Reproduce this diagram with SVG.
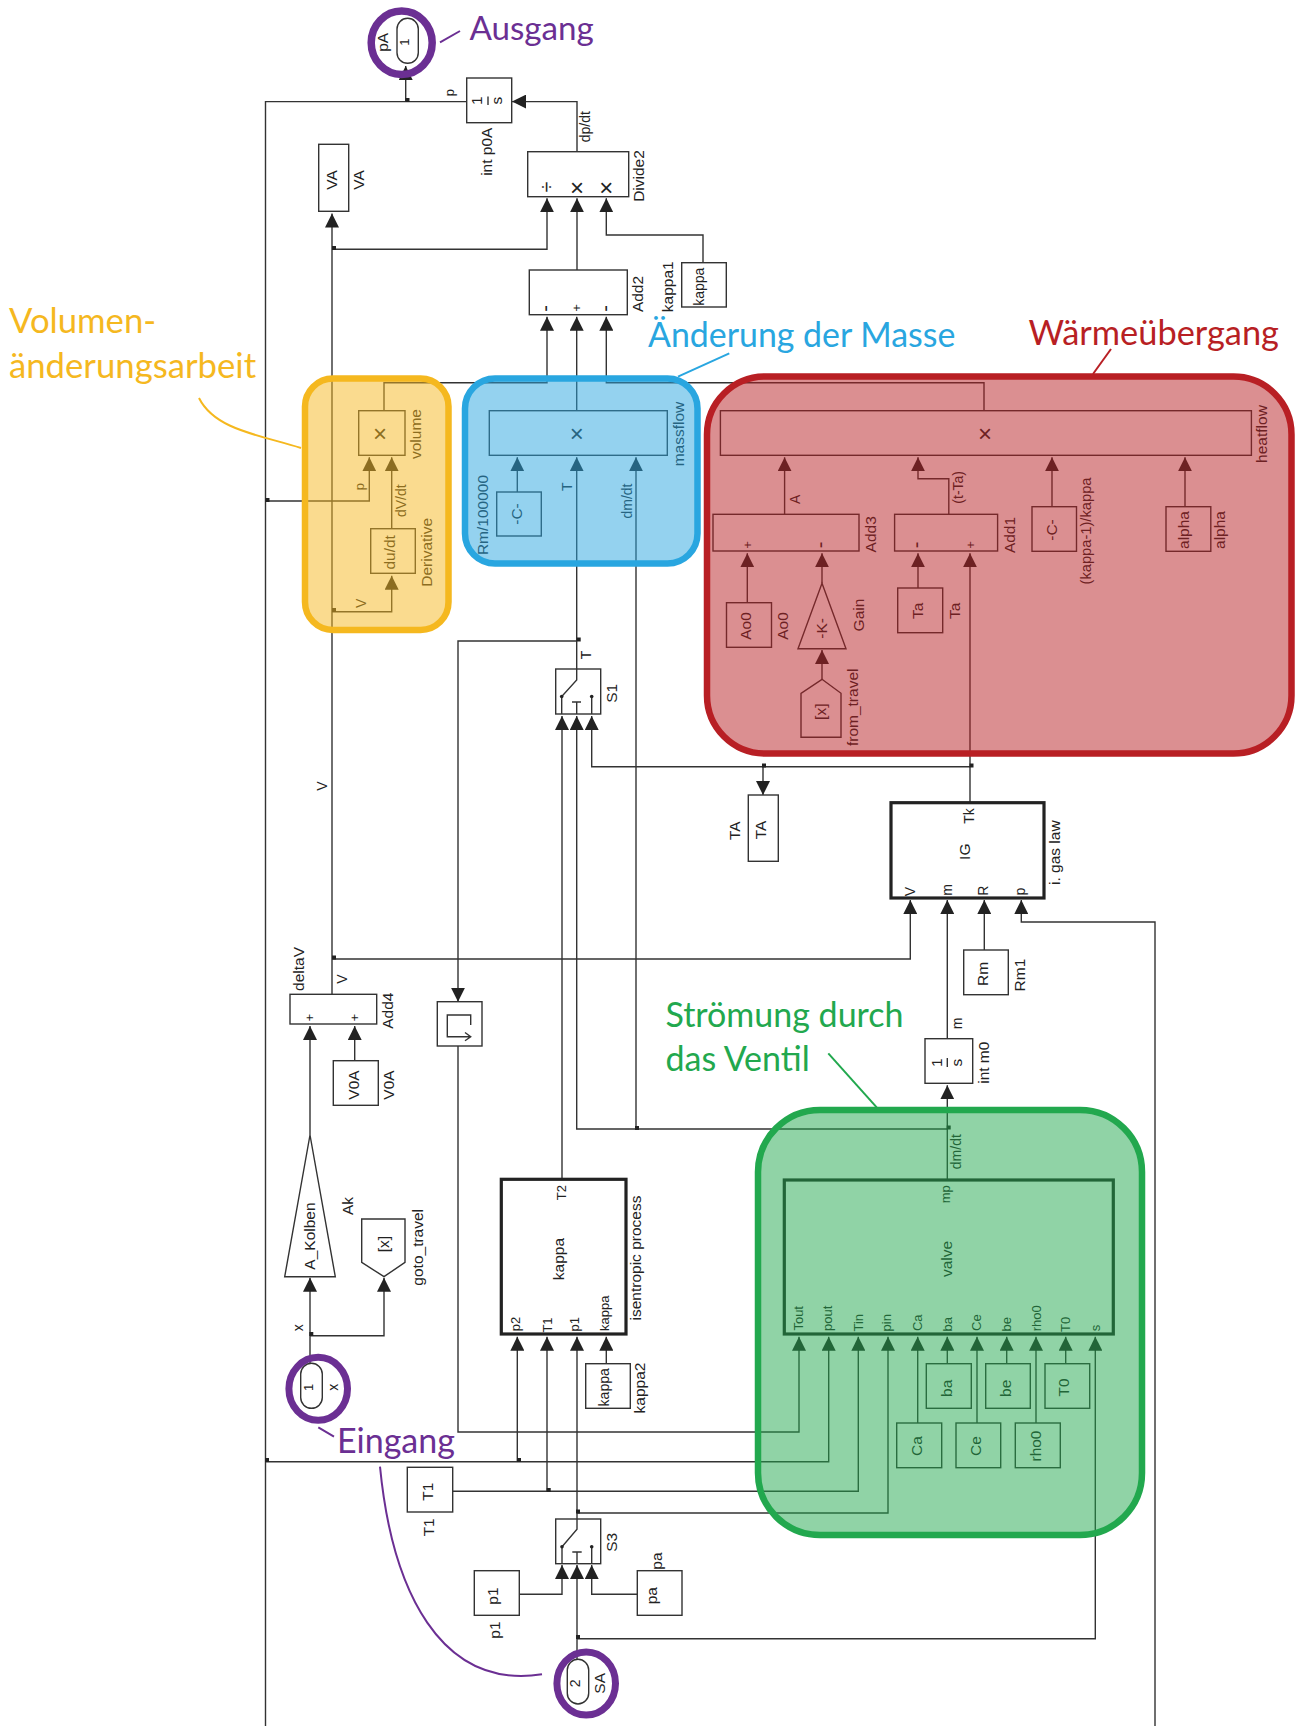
<svg xmlns="http://www.w3.org/2000/svg" width="1303" height="1726" viewBox="0 0 1303 1726">
<style>
text{font-family:"Liberation Sans",Arial,sans-serif;fill:#222;text-anchor:middle}
.f13{font-size:13px}.f14{font-size:14px}.f15{font-size:15.5px}.f20{font-size:20px}.sym{font-size:24px}
.b{fill:none;stroke:#333;stroke-width:1.4}
.tb{fill:none;stroke:#222;stroke-width:3.2}
.w{fill:none;stroke:#333;stroke-width:1.4}
.a{fill:none;stroke:#333;stroke-width:1.4;marker-end:url(#ah)}
.dot{fill:#222}
.ann{font-family:Lato,"Open Sans",sans-serif;text-anchor:start;font-size:33.5px}
.ov{stroke-width:6.5;fill-opacity:.5}
.lead{fill:none;stroke-width:2}
.ring{fill:none;stroke:#6B2F93;stroke-width:7}
</style>
<defs>
<marker id="ah" viewBox="0 0 14 14" refX="14" refY="7" markerWidth="14" markerHeight="14" markerUnits="userSpaceOnUse" orient="auto"><path d="M0 0L14 7L0 14Z" fill="#222"/></marker>
<rect id="jn" x="-2" y="-2" width="4" height="4" fill="#222"/>
</defs>
<rect width="1303" height="1726" fill="#fff"/>

<g id="connectors">
<path class="w" d="M466.7 101.6H265.5V1726"/>
<path class="a" d="M405.7 101.6V66"/>
<path class="a" d="M577 151.7V101.6H512"/>
<path class="a" d="M332 994.5V213.5"/>
<path class="a" d="M332 249.3H547V198.3"/>
<path class="a" d="M577 270V198.3"/>
<path class="a" d="M703 262.7V235H606.3V198.3"/>
<path class="a" d="M384 410.7V382.7H547V316.7"/>
<path class="a" d="M576.7 410.7V316.7"/>
<path class="a" d="M984 410.7V382.7H606.3V316.7"/>
<path class="a" d="M265.5 501H369.3V457.3"/>
<path class="a" d="M391.7 528.7V457.3"/>
<path class="a" d="M332 611.7H391.7V575.7"/>
<path class="a" d="M517.3 492V457.3"/>
<path class="a" d="M576.7 669V457.3"/>
<path class="a" d="M636 1129V457.3"/>
<path class="a" d="M576.7 641H458V1001.7"/>
<path class="a" d="M562 1179.3V716"/>
<path class="a" d="M947.3 1129H576.7V716"/>
<path class="a" d="M970 802.7V553.3"/>
<path class="a" d="M970 766.7H591.7V716"/>
<path class="a" d="M763 766.7V795"/>
<path class="a" d="M784.6 514.3V457.3"/>
<path class="a" d="M948.8 514.3V478.7H918V457.3"/>
<path class="a" d="M1052 506.7V457.3"/>
<path class="a" d="M1185 506.7V457.3"/>
<path class="a" d="M747.3 602.7V553.3"/>
<path class="a" d="M822 583.3V553.3"/>
<path class="a" d="M822 679.3V650"/>
<path class="a" d="M918 588V553.3"/>
<path class="a" d="M332 959H910.3V900"/>
<path class="a" d="M947.3 1038.7V900"/>
<path class="a" d="M984.3 950V900"/>
<path class="a" d="M1155 1726V922H1021.3V900"/>
<path class="a" d="M947.3 1180V1085.3"/>
<path class="a" d="M310 1135V1026"/>
<path class="a" d="M354.7 1060.7V1026"/>
<path class="a" d="M310 1363.3V1277.7"/>
<path class="a" d="M310 1335.7H384V1277.7"/>
<path class="a" d="M458 1046V1432H799V1336.7"/>
<path class="a" d="M265.5 1461.7H828.7V1336.7"/>
<path class="a" d="M517.3 1461.7V1336.7"/>
<path class="a" d="M452.7 1491.3H858.3V1336.7"/>
<path class="a" d="M547 1491.3V1336.7"/>
<path class="a" d="M577 1519V1336.7"/>
<path class="a" d="M577 1513H888V1336.7"/>
<path class="a" d="M606.3 1363.7V1336.7"/>
<path class="a" d="M917.7 1423V1336.7"/>
<path class="a" d="M947.3 1363.7V1336.7"/>
<path class="a" d="M977 1423V1336.7"/>
<path class="a" d="M1006.7 1363.7V1336.7"/>
<path class="a" d="M1036 1423V1336.7"/>
<path class="a" d="M1065.7 1363.7V1336.7"/>
<path class="a" d="M519.3 1594.3H562V1565"/>
<path class="a" d="M637.3 1594.3H591.7V1565"/>
<path class="a" d="M577 1659.3V1565"/>
<path class="a" d="M577 1638.7H1095.3V1336.7"/>
<use href="#jn" x="407.5" y="100"/><use href="#jn" x="334" y="248"/><use href="#jn" x="267.5" y="500"/><use href="#jn" x="334" y="610"/><use href="#jn" x="578.7" y="639.5"/><use href="#jn" x="764" y="765.5"/><use href="#jn" x="971.5" y="765.5"/><use href="#jn" x="334" y="957.5"/><use href="#jn" x="637" y="1128"/><use href="#jn" x="948.7" y="1127.5"/><use href="#jn" x="311.3" y="1334"/><use href="#jn" x="267" y="1460"/><use href="#jn" x="519" y="1460"/><use href="#jn" x="548.7" y="1490"/><use href="#jn" x="578" y="1511.5"/><use href="#jn" x="578" y="1637"/>
</g>

<g id="n-pA"><rect class="b" x="397" y="18.3" width="21.3" height="45" rx="10.6"/><text class="f13" x="409" y="42" transform="rotate(-90 409 42)">1</text><text class="f15" x="388" y="42.3" transform="rotate(-90 388 42.3)">pA</text></g>
<g id="n-intp0A"><rect class="b" x="466.7" y="78" width="45" height="44.7"/><text class="f15" x="481.7" y="100.7" transform="rotate(-90 481.7 100.7)">1</text><path class="w" d="M488 96.5V105"/><text class="f15" x="502.3" y="100.7" transform="rotate(-90 502.3 100.7)">s</text><text class="f15" x="492" y="151.7" transform="rotate(-90 492 151.7)">int p0A</text><text class="f13" x="454" y="92.7" transform="rotate(-90 454 92.7)">p</text></g>
<g id="n-VA"><rect class="b" x="318.7" y="144.3" width="30" height="67"/><text class="f15" x="337" y="180" transform="rotate(-90 337 180)">VA</text><text class="f15" x="364.3" y="180" transform="rotate(-90 364.3 180)">VA</text></g>
<g id="n-Divide2"><rect class="b" x="527.7" y="151.7" width="101" height="45"/><text class="f20" x="553" y="187" transform="rotate(-90 553 187)">÷</text><text class="sym" x="577" y="196">×</text><text class="sym" x="606.3" y="196">×</text><text class="f15" x="644" y="176" transform="rotate(-90 644 176)">Divide2</text><text class="f14" x="590" y="126.7" transform="rotate(-90 590 126.7)">dp/dt</text></g>
<g id="n-Add2"><rect class="b" x="529.3" y="270" width="98" height="44.7"/><text class="f20" x="552.4" y="308.5" transform="rotate(-90 552.4 308.5)">-</text><text class="f13" x="581.3" y="308" transform="rotate(-90 581.3 308)">+</text><text class="f20" x="611.7" y="308.5" transform="rotate(-90 611.7 308.5)">-</text><text class="f15" x="643.3" y="294" transform="rotate(-90 643.3 294)">Add2</text></g>
<g id="n-kappa1"><rect class="b" x="681.7" y="262.7" width="44.6" height="44.3"/><text class="f14" x="704.3" y="286.7" transform="rotate(-90 704.3 286.7)">kappa</text><text class="f15" x="673.3" y="286.7" transform="rotate(-90 673.3 286.7)">kappa1</text></g>

<g id="n-volume"><rect class="b" x="358.7" y="410.7" width="46.3" height="44.6"/><text class="sym" x="380" y="442">×</text><text class="f15" x="420.7" y="434" transform="rotate(-90 420.7 434)">volume</text><text class="f13" x="364" y="486.7" transform="rotate(-90 364 486.7)">p</text><text class="f14" x="405.7" y="500.7" transform="rotate(-90 405.7 500.7)">dV/dt</text></g>
<g id="n-Derivative"><rect class="b" x="370.7" y="528.7" width="44.6" height="44.6"/><text class="f15" x="395" y="552.3" transform="rotate(-90 395 552.3)">du/dt</text><text class="f15" x="431.7" y="552.3" transform="rotate(-90 431.7 552.3)">Derivative</text><text class="f14" x="365.7" y="603.3" transform="rotate(-90 365.7 603.3)">V</text></g>
<g id="n-massflow"><rect class="b" x="489.3" y="410.7" width="178" height="44.6"/><text class="sym" x="576.7" y="442">×</text><text class="f15" x="684" y="434" transform="rotate(-90 684 434)">massflow</text><text class="f14" x="571.7" y="486.7" transform="rotate(-90 571.7 486.7)">T</text><text class="f14" x="631.7" y="501" transform="rotate(-90 631.7 501)">dm/dt</text></g>
<g id="n-Rm100000"><rect class="b" x="496.7" y="492" width="44.6" height="44"/><text class="f15" x="521.7" y="514" transform="rotate(-90 521.7 514)">-C-</text><text class="f15" x="488.3" y="515" transform="rotate(-90 488.3 515)">Rm/100000</text></g>
<g id="n-S1"><rect class="b" x="555.7" y="669" width="45" height="45"/><path class="w" d="M576.7 669V680L561.7 696.5V714M591.7 696.5V714M572 702H581M576.7 702V714"/><circle class="dot" cx="561.7" cy="696.5" r="1.8"/><circle class="dot" cx="591.7" cy="696.5" r="1.8"/><text class="f15" x="616.7" y="693.3" transform="rotate(-90 616.7 693.3)">S1</text><text class="f14" x="591" y="655" transform="rotate(-90 591 655)">T</text></g>

<g id="n-heatflow"><rect class="b" x="720.4" y="410.7" width="531" height="44.6"/><text class="sym" x="985" y="442">×</text><text class="f15" x="1267" y="434" transform="rotate(-90 1267 434)">heatflow</text></g>
<g id="n-Add3"><rect class="b" x="713" y="514.3" width="146" height="36.7"/><text class="f13" x="751.6" y="545" transform="rotate(-90 751.6 545)">+</text><text class="f20" x="827.4" y="545" transform="rotate(-90 827.4 545)">-</text><text class="f15" x="876" y="534.3" transform="rotate(-90 876 534.3)">Add3</text><text class="f14" x="800" y="499.3" transform="rotate(-90 800 499.3)">A</text></g>
<g id="n-Add1"><rect class="b" x="894.6" y="514.3" width="103" height="36.7"/><text class="f20" x="923.4" y="545" transform="rotate(-90 923.4 545)">-</text><text class="f13" x="975.3" y="545" transform="rotate(-90 975.3 545)">+</text><text class="f15" x="1014.6" y="535" transform="rotate(-90 1014.6 535)">Add1</text><text class="f14" x="963" y="487.3" transform="rotate(-90 963 487.3)">(t-Ta)</text></g>
<g id="n-kappaC"><rect class="b" x="1032" y="506.7" width="44.5" height="44.6"/><text class="f15" x="1057" y="530" transform="rotate(-90 1057 530)">-C-</text><text class="f14" x="1091" y="531" transform="rotate(-90 1091 531)" style="font-size:14.7px">(kappa-1)/kappa</text></g>
<g id="n-alpha"><rect class="b" x="1166" y="506.7" width="44.8" height="44.6"/><text class="f15" x="1189" y="530" transform="rotate(-90 1189 530)">alpha</text><text class="f15" x="1225" y="530" transform="rotate(-90 1225 530)">alpha</text></g>
<g id="n-Ao0"><rect class="b" x="726.5" y="602.7" width="45" height="44.6"/><text class="f15" x="751" y="626" transform="rotate(-90 751 626)">Ao0</text><text class="f15" x="787.7" y="626" transform="rotate(-90 787.7 626)">Ao0</text></g>
<g id="n-Gain"><path class="b" d="M822 583.3L846 648.7H798Z"/><text class="f15" x="827" y="628.3" transform="rotate(-90 827 628.3)">-K-</text><text class="f15" x="863.5" y="615" transform="rotate(-90 863.5 615)">Gain</text></g>
<g id="n-from_travel"><path class="b" d="M822 679.3L841 693.3V737.3H801V693.3Z"/><text class="f15" x="826" y="711.7" transform="rotate(-90 826 711.7)">[x]</text><text class="f15" x="858" y="707.3" transform="rotate(-90 858 707.3)">from_travel</text></g>
<g id="n-Ta"><rect class="b" x="897.7" y="588" width="45" height="44.7"/><text class="f15" x="923" y="610.7" transform="rotate(-90 923 610.7)">Ta</text><text class="f15" x="959.6" y="610.7" transform="rotate(-90 959.6 610.7)">Ta</text></g>

<g id="n-TA"><rect class="b" x="748.3" y="795" width="30" height="66.3"/><text class="f15" x="766" y="830" transform="rotate(-90 766 830)">TA</text><text class="f15" x="740" y="830.7" transform="rotate(-90 740 830.7)">TA</text></g>
<g id="n-IG"><rect class="tb" x="891" y="802.7" width="153" height="95.3"/><text class="f14" x="974" y="816" transform="rotate(-90 974 816)">Tk</text><text class="f15" x="970" y="851.7" transform="rotate(-90 970 851.7)">IG</text><text class="f14" x="915" y="891.7" transform="rotate(-90 915 891.7)">V</text><text class="f14" x="951.7" y="890" transform="rotate(-90 951.7 890)">m</text><text class="f14" x="988.3" y="890.7" transform="rotate(-90 988.3 890.7)">R</text><text class="f14" x="1025" y="891.7" transform="rotate(-90 1025 891.7)">p</text><text class="f15" x="1060" y="852.7" transform="rotate(-90 1060 852.7)">i. gas law</text></g>
<g id="n-Rm1"><rect class="b" x="963.7" y="950" width="44.6" height="44.7"/><text class="f15" x="988.3" y="974" transform="rotate(-90 988.3 974)">Rm</text><text class="f15" x="1025" y="975" transform="rotate(-90 1025 975)">Rm1</text></g>
<g id="n-intm0"><rect class="b" x="925" y="1038.7" width="47.7" height="44.6"/><text class="f15" x="941.7" y="1062.7" transform="rotate(-90 941.7 1062.7)">1</text><path class="w" d="M947.3 1058V1067"/><text class="f15" x="961.7" y="1062.7" transform="rotate(-90 961.7 1062.7)">s</text><text class="f15" x="989.3" y="1062.7" transform="rotate(-90 989.3 1062.7)">int m0</text><text class="f14" x="961.7" y="1023.3" transform="rotate(-90 961.7 1023.3)">m</text></g>

<g id="n-Add4"><rect class="b" x="290" y="994.3" width="86.7" height="29.7"/><text class="f13" x="314.3" y="1017.7" transform="rotate(-90 314.3 1017.7)">+</text><text class="f13" x="359" y="1017.7" transform="rotate(-90 359 1017.7)">+</text><text class="f15" x="393" y="1010.7" transform="rotate(-90 393 1010.7)">Add4</text><text class="f15" x="304" y="969" transform="rotate(-90 304 969)">deltaV</text><text class="f14" x="346.7" y="979" transform="rotate(-90 346.7 979)">V</text><text class="f14" x="327.3" y="786" transform="rotate(-90 327.3 786)">V</text></g>
<g id="n-V0A"><rect class="b" x="333.3" y="1060.7" width="45" height="44.6"/><text class="f15" x="359" y="1085" transform="rotate(-90 359 1085)">V0A</text><text class="f15" x="394.3" y="1085" transform="rotate(-90 394.3 1085)">V0A</text></g>
<g id="n-Delay"><rect class="b" x="437.3" y="1001.7" width="44.7" height="44.3"/><path class="w" d="M470.7 1025V1015H447.3V1036.7H470.7M465 1032.5L470.7 1036.7L465 1040.7"/></g>
<g id="n-Ak"><path class="b" d="M310 1135L335.3 1276.7H284.7Z"/><text class="f15" x="315" y="1236" transform="rotate(-90 315 1236)">A_Kolben</text><text class="f15" x="352.7" y="1206" transform="rotate(-90 352.7 1206)">Ak</text></g>
<g id="n-goto_travel"><path class="b" d="M361.7 1219H405V1262.3L384 1276.7L361.7 1262.3Z"/><text class="f15" x="389" y="1244" transform="rotate(-90 389 1244)">[x]</text><text class="f15" x="423" y="1247.3" transform="rotate(-90 423 1247.3)">goto_travel</text></g>
<g id="n-x"><rect class="b" x="300.7" y="1363.3" width="21.6" height="45" rx="10.8"/><text class="f13" x="313" y="1387.3" transform="rotate(-90 313 1387.3)">1</text><text class="f14" x="337.7" y="1387.3" transform="rotate(-90 337.7 1387.3)">x</text><text class="f14" x="302.7" y="1327.7" transform="rotate(-90 302.7 1327.7)">x</text></g>
<g id="n-isentropic"><rect class="tb" x="501.3" y="1179.3" width="124.7" height="154.7"/><text class="f13" x="566" y="1192.7" transform="rotate(-90 566 1192.7)">T2</text><text class="f15" x="564" y="1259" transform="rotate(-90 564 1259)">kappa</text><text class="f15" x="640.5" y="1258" transform="rotate(-90 640.5 1258)">isentropic process</text><text class="f13" x="520" y="1324" transform="rotate(-90 520 1324)">p2</text><text class="f13" x="551.7" y="1325" transform="rotate(-90 551.7 1325)">T1</text><text class="f13" x="579" y="1324.3" transform="rotate(-90 579 1324.3)">p1</text><text class="f13" x="609" y="1313.3" transform="rotate(-90 609 1313.3)">kappa</text></g>
<g id="n-kappa2"><rect class="b" x="585.7" y="1363.7" width="44.6" height="44.6"/><text class="f14" x="609" y="1387.3" transform="rotate(-90 609 1387.3)">kappa</text><text class="f15" x="645" y="1388" transform="rotate(-90 645 1388)">kappa2</text></g>

<g id="n-valve"><rect class="tb" x="784.3" y="1180" width="329" height="154"/><text class="f13" x="950" y="1194.3" transform="rotate(-90 950 1194.3)">mp</text><text class="f15" x="952" y="1259" transform="rotate(-90 952 1259)">valve</text><text class="f14" x="960.7" y="1151.7" transform="rotate(-90 960.7 1151.7)">dm/dt</text>
<text class="f13" x="803.3" y="1318.3" transform="rotate(-90 803.3 1318.3)">Tout</text><text class="f13" x="832" y="1318.3" transform="rotate(-90 832 1318.3)">pout</text><text class="f13" x="862.7" y="1322.7" transform="rotate(-90 862.7 1322.7)">Tin</text><text class="f13" x="891" y="1322.7" transform="rotate(-90 891 1322.7)">pin</text><text class="f13" x="921.7" y="1322.7" transform="rotate(-90 921.7 1322.7)">Ca</text><text class="f13" x="951.7" y="1324.3" transform="rotate(-90 951.7 1324.3)">ba</text><text class="f13" x="981" y="1322.7" transform="rotate(-90 981 1322.7)">Ce</text><text class="f13" x="1011" y="1324.3" transform="rotate(-90 1011 1324.3)">be</text><text class="f13" x="1040.7" y="1318.3" transform="rotate(-90 1040.7 1318.3)">rho0</text><text class="f13" x="1070" y="1324.3" transform="rotate(-90 1070 1324.3)">T0</text><text class="f13" x="1100" y="1328" transform="rotate(-90 1100 1328)">s</text></g>
<g id="n-ba"><rect class="b" x="926.3" y="1363.7" width="45" height="44.6"/><text class="f15" x="951.7" y="1388.3" transform="rotate(-90 951.7 1388.3)">ba</text></g>
<g id="n-be"><rect class="b" x="985.7" y="1363.7" width="44.6" height="44.6"/><text class="f15" x="1011" y="1388.3" transform="rotate(-90 1011 1388.3)">be</text></g>
<g id="n-T0"><rect class="b" x="1045" y="1363.7" width="44.7" height="44.6"/><text class="f15" x="1069.3" y="1387.5" transform="rotate(-90 1069.3 1387.5)">T0</text></g>
<g id="n-Ca"><rect class="b" x="896.7" y="1423" width="45" height="44.7"/><text class="f15" x="921.7" y="1446" transform="rotate(-90 921.7 1446)">Ca</text></g>
<g id="n-Ce"><rect class="b" x="956" y="1423" width="44.7" height="44.7"/><text class="f15" x="981" y="1446" transform="rotate(-90 981 1446)">Ce</text></g>
<g id="n-rho0"><rect class="b" x="1015.3" y="1423" width="45" height="44.7"/><text class="f15" x="1040.7" y="1446" transform="rotate(-90 1040.7 1446)">rho0</text></g>

<g id="n-T1"><rect class="b" x="407.3" y="1467.3" width="45.4" height="44.7"/><text class="f15" x="432.7" y="1491.7" transform="rotate(-90 432.7 1491.7)">T1</text><text class="f15" x="434" y="1527.3" transform="rotate(-90 434 1527.3)">T1</text></g>
<g id="n-S3"><rect class="b" x="555.7" y="1519" width="45" height="44.7"/><path class="w" d="M577 1519V1529.3L562 1546.7V1563.7M591.7 1546.7V1563.7M572.3 1552H581.7M577 1552V1563.7"/><circle class="dot" cx="562" cy="1546.7" r="1.8"/><circle class="dot" cx="591.7" cy="1546.7" r="1.8"/><text class="f15" x="616.7" y="1542.3" transform="rotate(-90 616.7 1542.3)">S3</text></g>
<g id="n-p1"><rect class="b" x="474.3" y="1570.7" width="45" height="44.6"/><text class="f15" x="498" y="1596" transform="rotate(-90 498 1596)">p1</text><text class="f15" x="500" y="1630" transform="rotate(-90 500 1630)">p1</text></g>
<g id="n-pa"><rect class="b" x="637.3" y="1570.7" width="44.7" height="44.6"/><text class="f15" x="657.5" y="1595.7" transform="rotate(-90 657.5 1595.7)">pa</text><text class="f15" x="662" y="1561" transform="rotate(-90 662 1561)">pa</text></g>
<g id="n-SA"><rect class="b" x="567.3" y="1659.3" width="21.4" height="44.7" rx="10.7"/><text class="f14" x="580" y="1683.3" transform="rotate(-90 580 1683.3)">2</text><text class="f15" x="605" y="1683.3" transform="rotate(-90 605 1683.3)">SA</text></g>

<g id="region-volumenarbeit"><rect class="ov" x="305" y="378.5" width="143.5" height="251.5" rx="28" fill="#F5B81F" stroke="#F5B81F"/><path class="lead" stroke="#F5B81F" d="M199 398C215 430 260 435 301 448"/><text class="ann" style="fill:#F5B81F;font-size:34.7px" x="9" y="333">Volumen-</text><text class="ann" style="fill:#F5B81F;font-size:34.7px" x="9" y="377.5">änderungsarbeit</text></g>
<g id="region-masse"><rect class="ov" x="465" y="378.5" width="232.5" height="185" rx="30" fill="#29A6E0" stroke="#29A6E0"/><path class="lead" stroke="#29A6E0" d="M729.3 353.3L678 376.7"/><text class="ann" style="fill:#29A6E0;font-size:33.9px" x="648" y="346.7">Änderung der Masse</text></g>
<g id="region-waerme"><rect class="ov" x="707" y="376.5" width="584.5" height="377" rx="58" fill="#B81F24" stroke="#B81F24"/><path class="lead" stroke="#B81F24" d="M1111 349L1093 374"/><text class="ann" style="fill:#B81F24;font-size:34.4px" x="1028.5" y="345">Wärmeübergang</text></g>
<g id="region-ventil"><rect class="ov" x="758" y="1110" width="384" height="425" rx="62" fill="#22A84E" stroke="#22A84E"/><path class="lead" stroke="#22A84E" d="M828.3 1053.3L876.7 1107.3"/><text class="ann" style="fill:#22A84E;font-size:34px" x="665.5" y="1027">Strömung durch</text><text class="ann" style="fill:#22A84E;font-size:34px" x="665.5" y="1070.5">das Ventil</text></g>
<g id="region-ausgang"><ellipse class="ring" cx="401.7" cy="42.7" rx="30.5" ry="31.7" style="stroke-width:7.5"/><path class="lead" stroke="#6B2F93" d="M440 42.3L460 31"/><text class="ann" style="fill:#6B2F93;font-size:33.2px" x="469.5" y="40">Ausgang</text></g>
<g id="region-eingang"><ellipse class="ring" cx="318.2" cy="1388.8" rx="29.3" ry="31.5"/><ellipse class="ring" cx="586.2" cy="1683.5" rx="29.3" ry="31.5"/><path class="lead" stroke="#6B2F93" d="M318.3 1427.3L334 1436.7M380 1466.7C392 1590 440 1690 542 1674.3"/><text class="ann" style="fill:#6B2F93;font-size:34px" x="337" y="1452.7">Eingang</text></g>
</svg>
